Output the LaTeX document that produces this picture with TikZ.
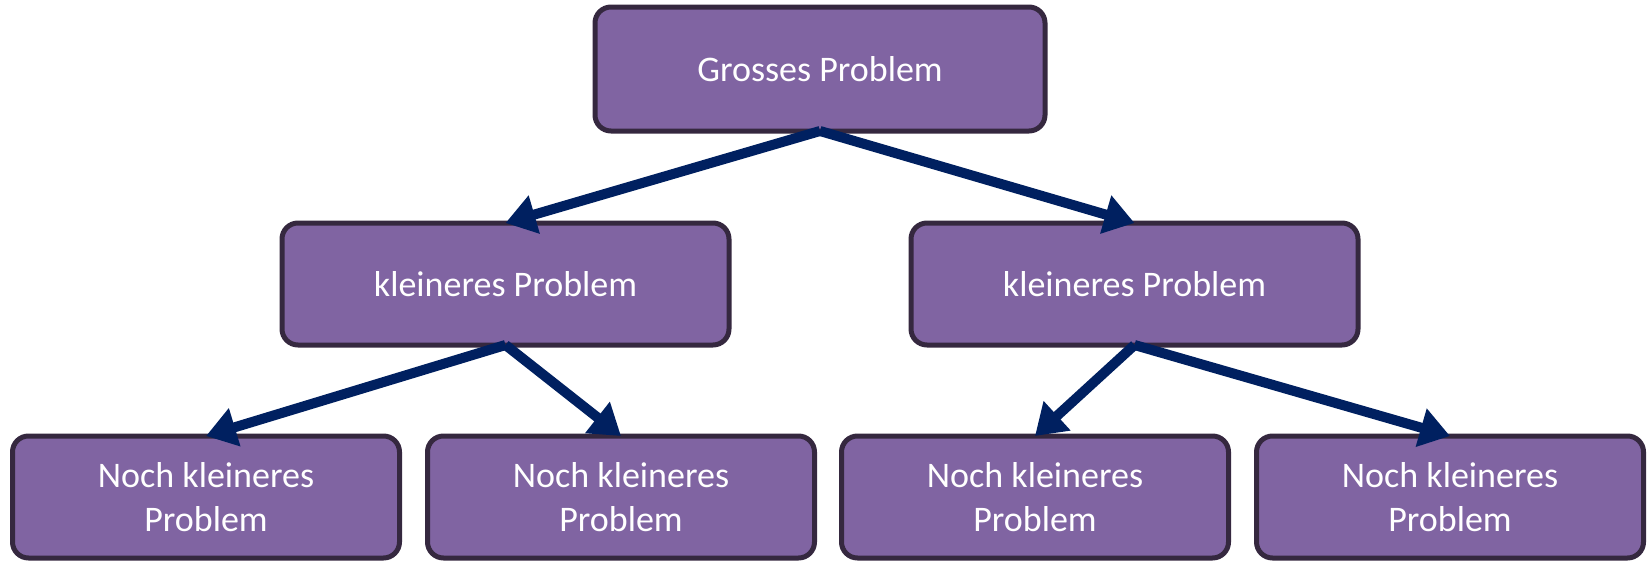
\documentclass[tikz,border=0pt]{standalone}
\usepackage{fontspec}
\setmainfont{Carlito}
\usetikzlibrary{arrows.meta}
\definecolor{boxfill}{HTML}{8064A2}
\definecolor{boxdraw}{HTML}{35283F}
\definecolor{arrowcol}{HTML}{002060}
\begin{document}
\begin{tikzpicture}[x=1pt,y=-1pt,
  probbox/.style={draw=boxdraw, fill=boxfill, line width=5pt, rounded corners=16pt,
    text=white, font=\fontsize{36}{44}\selectfont, align=center, inner sep=0pt, outer sep=0pt},
  topbox/.style={probbox, minimum width=450pt, minimum height=124pt},
  midbox/.style={probbox, minimum width=447pt, minimum height=122pt},
  lowbox/.style={probbox, minimum width=387pt, minimum height=122pt},
  conn/.style={draw=arrowcol, line width=10pt, -{Triangle[length=30pt,width=38pt]}}
]
\useasboundingbox (0,0) rectangle (1649,562);
\node[topbox] (top) at (820,69) {Grosses Problem};
\node[midbox] (ml) at (505.5,284) {kleineres Problem};
\node[midbox] (mr) at (1134.5,284) {kleineres Problem};
\node[lowbox] (b1) at (206,497) {Noch kleineres\\Problem};
\node[lowbox] (b2) at (621,497) {Noch kleineres\\Problem};
\node[lowbox] (b3) at (1035,497) {Noch kleineres\\Problem};
\node[lowbox] (b4) at (1450,497) {Noch kleineres\\Problem};
\draw[conn] (top.south) -- (ml.north);
\draw[conn] (top.south) -- (mr.north);
\draw[conn] (ml.south) -- (b1.north);
\draw[conn] (ml.south) -- (b2.north);
\draw[conn] (mr.south) -- (b3.north);
\draw[conn] (mr.south) -- (b4.north);
\end{tikzpicture}
\end{document}
